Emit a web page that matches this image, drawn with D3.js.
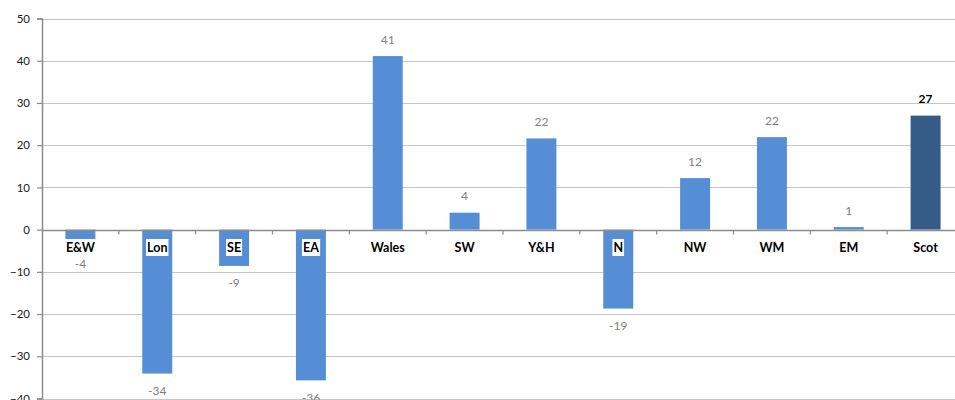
<!DOCTYPE html>
<html>
<head>
<meta charset="utf-8">
<script src="https://cdn.jsdelivr.net/npm/d3@7"></script>
<style>
  body { margin: 0; background: #fff; }
  svg { display: block; font-family: Lato, "Open Sans", sans-serif; }
</style>
</head>
<body>
<svg id="chart" width="955" height="400"></svg>
<script>
const categories = ['E&W', 'Lon', 'SE', 'EA', 'Wales', 'SW', 'Y&H', 'N', 'NW', 'WM', 'EM', 'Scot'];
const values = [-4, -34.1, -8.6, -35.7, 41.1, 4, 21.6, -18.7, 12.2, 21.9, 0.6, 27];
const valueLabels = ['-4', '-34', '-9', '-36', '41', '4', '22', '-19', '12', '22', '1', '27'];
const highlighted = ['Scot'];
const yTicks = [-40, -30, -20, -10, 0, 10, 20, 30, 40, 50];

const svg = d3.select('#chart');
const plot = {left: 42, right: 964, top: 18.5, bottom: 398.5};

const x = d3.scaleBand()
    .domain(categories)
    .range([plot.left, plot.right]);

const y = d3.scaleLinear()
    .domain([-40, 50])
    .range([plot.bottom, plot.top]);

const barW = x.bandwidth() * 0.39;

// gridlines
svg.append('g')
  .selectAll('line')
  .data(yTicks.filter(t => t !== 0))
  .enter()
  .append('line')
    .attr('x1', plot.left)
    .attr('x2', 955)
    .attr('y1', d => Math.round(y(d)) + 0.5)
    .attr('y2', d => Math.round(y(d)) + 0.5)
    .attr('stroke', '#c6c6c6')
    .attr('stroke-width', 1.2);

// y axis
const yAxis = svg.append('g')
    .attr('transform', `translate(${plot.left},0)`)
    .call(d3.axisLeft(y).tickValues(yTicks).tickSize(5).tickPadding(7));
yAxis.select('.domain').attr('stroke', '#8c8c8c').attr('stroke-width', 1.5);
yAxis.selectAll('.tick line').attr('stroke', '#8c8c8c').attr('stroke-width', 1.2);
yAxis.selectAll('text')
    .style('font-size', '11.5px')
    .style('font-family', 'Lato, sans-serif')
    .attr('fill', '#1a1a1a');

// bars
svg.append('g')
  .selectAll('.bar')
  .data(categories)
  .enter()
  .append('rect')
    .classed('bar', true)
    .attr('x', d => x(d) + x.bandwidth() / 2 - barW / 2)
    .attr('width', barW)
    .attr('y', (d, i) => y(Math.max(0, values[i])))
    .attr('height', (d, i) => Math.abs(y(values[i]) - y(0)))
    .attr('fill', d => highlighted.includes(d) ? '#355b87' : '#558ed5');

// zero line + category ticks
const zeroY = Math.round(y(0)) + 0.5;
svg.append('line')
    .attr('x1', plot.left).attr('x2', 955)
    .attr('y1', zeroY).attr('y2', zeroY)
    .attr('stroke', '#8c8c8c').attr('stroke-width', 1.5);

svg.append('g')
  .selectAll('line')
  .data(categories.slice(1))
  .enter()
  .append('line')
    .attr('x1', d => x(d)).attr('x2', d => x(d))
    .attr('y1', zeroY).attr('y2', zeroY + 4)
    .attr('stroke', '#8c8c8c').attr('stroke-width', 1.2);

// value labels
svg.append('g')
  .selectAll('text')
  .data(categories)
  .enter()
  .append('text')
    .attr('x', d => x(d) + x.bandwidth() / 2)
    .attr('y', (d, i) => values[i] >= 0 ? y(values[i]) - 17 : y(values[i]) + 17)
    .attr('text-anchor', 'middle')
    .attr('dominant-baseline', 'central')
    .style('font-size', '12px')
    .style('font-weight', d => highlighted.includes(d) ? 'bold' : 'normal')
    .attr('fill', d => highlighted.includes(d) ? '#000' : '#7f7f7f')
    .text((d, i) => valueLabels[i]);

// category labels with white boxes
const catG = svg.append('g')
  .selectAll('g')
  .data(categories)
  .enter()
  .append('g')
    .attr('transform', d => `translate(${x(d) + x.bandwidth() / 2},${zeroY + 17})`);

catG.append('text')
    .attr('text-anchor', 'middle')
    .attr('dominant-baseline', 'central')
    .style('font-size', '12.5px')
    .style('font-weight', 'bold')
    .attr('fill', '#000')
    .text(d => d);

catG.each(function() {
    const g = d3.select(this);
    const bb = g.select('text').node().getBBox();
    g.insert('rect', 'text')
        .attr('x', bb.x - 1)
        .attr('y', -8.5)
        .attr('width', bb.width + 2)
        .attr('height', 17)
        .attr('fill', '#fff');
});
</script>
</body>
</html>
